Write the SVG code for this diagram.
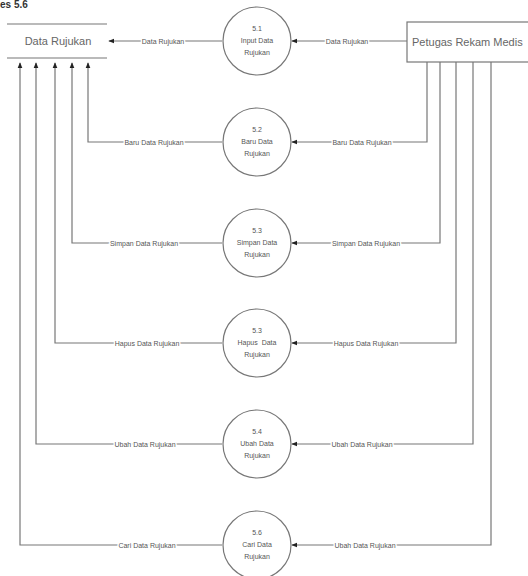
<svg xmlns="http://www.w3.org/2000/svg" width="528" height="576" viewBox="0 0 528 576">
  <defs>
    <marker id="arr" viewBox="0 0 8 8" refX="7" refY="4" markerWidth="6" markerHeight="6" orient="auto" markerUnits="userSpaceOnUse">
      <path d="M0,0.8 L8,4 L0,7.2 Z" fill="#222"/>
    </marker>
    <style>
      .ln { fill: none; stroke: #777; stroke-width: 1.2; }
      .shape { fill: #fff; stroke: #777; stroke-width: 1.2; }
      .lbl { font-family: "Liberation Sans", Arial, sans-serif; font-size: 7px; fill: #555; text-anchor: middle; dominant-baseline: central; stroke: #fff; stroke-width: 3; paint-order: stroke; }
      .ptxt { font-family: "Liberation Sans", Arial, sans-serif; font-size: 7px; fill: #555; text-anchor: middle; }
      .big { font-family: "Liberation Sans", Arial, sans-serif; font-size: 11px; fill: #666; }
    </style>
  </defs>
  <rect width="528" height="576" fill="#fff"/>

  <!-- caption fragment at the top edge -->
  <text x="0" y="8" font-family="Liberation Sans, Arial, sans-serif" font-size="10" font-weight="bold" fill="#333">es 5.6</text>

  <!-- connectors -->
  <g id="connectors">
    <!-- 5.1 -> store, entity -> 5.1 -->
    <line class="ln" x1="222" y1="41" x2="109" y2="41" marker-end="url(#arr)"/>
    <line class="ln" x1="407" y1="41" x2="292" y2="41" marker-end="url(#arr)"/>
    <!-- processes -> store (left side) -->
    <path class="ln" d="M222,142 H88 V63" marker-end="url(#arr)"/>
    <path class="ln" d="M222,243 H72 V63" marker-end="url(#arr)"/>
    <path class="ln" d="M222,343 H55 V63" marker-end="url(#arr)"/>
    <path class="ln" d="M222,444 H36 V63" marker-end="url(#arr)"/>
    <path class="ln" d="M222,545 H20 V63" marker-end="url(#arr)"/>
    <!-- entity -> processes (right side) -->
    <path class="ln" d="M427,62 V142 H292" marker-end="url(#arr)"/>
    <path class="ln" d="M440,62 V243 H292" marker-end="url(#arr)"/>
    <path class="ln" d="M456,62 V343 H292" marker-end="url(#arr)"/>
    <path class="ln" d="M473,62 V444 H292" marker-end="url(#arr)"/>
    <path class="ln" d="M491,62 V545 H292" marker-end="url(#arr)"/>

    <text class="lbl" x="163" y="41">Data Rujukan</text>
    <text class="lbl" x="347" y="41">Data Rujukan</text>
    <text class="lbl" x="154" y="142">Baru Data Rujukan</text>
    <text class="lbl" x="362" y="142">Baru Data Rujukan</text>
    <text class="lbl" x="144" y="243">Simpan Data Rujukan</text>
    <text class="lbl" x="366" y="243">Simpan Data Rujukan</text>
    <text class="lbl" x="147" y="343">Hapus Data Rujukan</text>
    <text class="lbl" x="366" y="343">Hapus Data Rujukan</text>
    <text class="lbl" x="145" y="444">Ubah Data Rujukan</text>
    <text class="lbl" x="362" y="444">Ubah Data Rujukan</text>
    <text class="lbl" x="147" y="545">Cari Data Rujukan</text>
    <text class="lbl" x="365" y="545">Ubah Data Rujukan</text>
  </g>

  <!-- data store -->
  <g id="store-data-rujukan">
    <line class="ln" x1="7" y1="24" x2="107" y2="24"/>
    <line class="ln" x1="7" y1="58" x2="107" y2="58"/>
    <text class="big" x="58" y="45" text-anchor="middle" font-size="10.5">Data Rujukan</text>
  </g>

  <!-- external entity -->
  <g id="entity-petugas">
    <rect class="shape" x="407" y="22" width="130" height="40"/>
    <text class="big" x="412" y="46" font-size="11.5">Petugas Rekam Medis</text>
  </g>

  <!-- processes -->
  <g id="proc-5-1">
    <circle class="shape" cx="257" cy="41" r="34"/>
    <text class="ptxt" x="257" y="31">5.1</text>
    <text class="ptxt" x="257" y="43">Input Data</text>
    <text class="ptxt" x="257" y="55">Rujukan</text>
  </g>
  <g id="proc-5-2">
    <circle class="shape" cx="257" cy="142" r="34"/>
    <text class="ptxt" x="257" y="132">5.2</text>
    <text class="ptxt" x="257" y="144">Baru Data</text>
    <text class="ptxt" x="257" y="156">Rujukan</text>
  </g>
  <g id="proc-5-3a">
    <circle class="shape" cx="257" cy="243" r="34"/>
    <text class="ptxt" x="257" y="233">5.3</text>
    <text class="ptxt" x="257" y="245">Simpan Data</text>
    <text class="ptxt" x="257" y="257">Rujukan</text>
  </g>
  <g id="proc-5-3b">
    <circle class="shape" cx="257" cy="343" r="34"/>
    <text class="ptxt" x="257" y="333">5.3</text>
    <text class="ptxt" x="257" y="345" xml:space="preserve">Hapus  Data</text>
    <text class="ptxt" x="257" y="357">Rujukan</text>
  </g>
  <g id="proc-5-4">
    <circle class="shape" cx="257" cy="444" r="34"/>
    <text class="ptxt" x="257" y="434">5.4</text>
    <text class="ptxt" x="257" y="446">Ubah Data</text>
    <text class="ptxt" x="257" y="458">Rujukan</text>
  </g>
  <g id="proc-5-6">
    <circle class="shape" cx="257" cy="545" r="34"/>
    <text class="ptxt" x="257" y="535">5.6</text>
    <text class="ptxt" x="257" y="547">Cari Data</text>
    <text class="ptxt" x="257" y="559">Rujukan</text>
  </g>
</svg>
